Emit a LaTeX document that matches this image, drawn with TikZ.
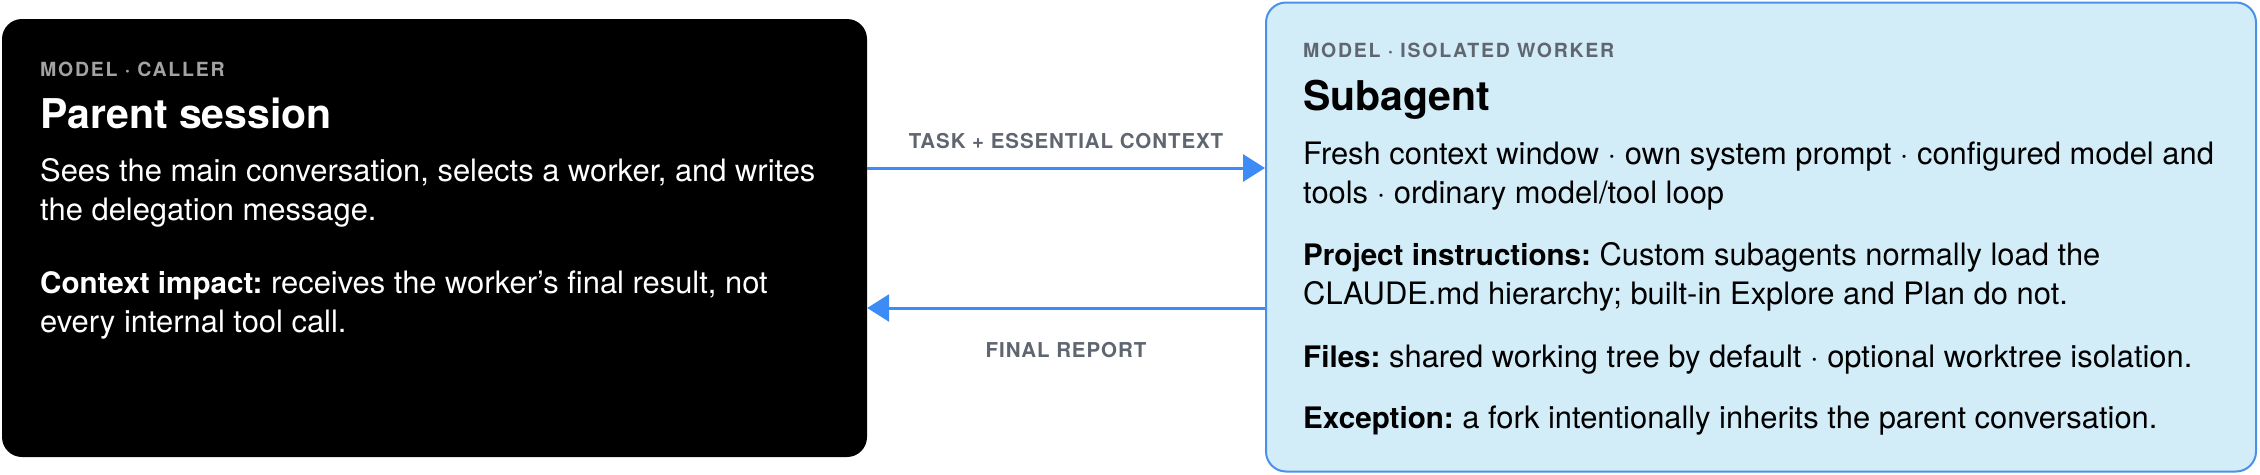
\documentclass[tikz,border=0pt]{standalone}
\usepackage{fontspec}
\setmainfont{TeX Gyre Heros}
\newfontfamily\kickerfont[LetterSpace=9]{TeX Gyre Heros}
\newfontfamily\flowfont[LetterSpace=4.5]{TeX Gyre Heros}
\usetikzlibrary{arrows.meta}
\definecolor{arrowblue}{HTML}{3D8BF6}
\definecolor{panelfill}{HTML}{D2ECF8}
\definecolor{panelborder}{HTML}{4A90E9}
\definecolor{capgray}{HTML}{5F6670}
\definecolor{capgraylight}{HTML}{A3A3A3}
\newcommand{\leadin}[1]{{\bfseries\fontsize{29.6}{38.3}\selectfont #1}}
\frenchspacing
\tikzset{
  darkbox/.style={rectangle, rounded corners=20pt, fill=black, inner sep=0pt,
    minimum width=865pt, minimum height=438pt},
  lightbox/.style={rectangle, rounded corners=20pt, fill=panelfill, draw=panelborder,
    line width=2pt, inner sep=0pt, minimum width=990pt, minimum height=469pt},
  kicker/.style={anchor=base west, inner sep=0pt,
    font=\kickerfont\bfseries\fontsize{19.5}{22}\selectfont},
  heading/.style={anchor=base west, inner sep=0pt,
    font=\bfseries\fontsize{41}{48}\selectfont},
  bodytext/.style={anchor=base west, inner sep=0pt, align=left,
    font=\frenchspacing\fontsize{30.9}{38.3}\selectfont},
  flowlabel/.style={anchor=base, inner sep=0pt, text=capgray,
    font=\flowfont\bfseries\fontsize{20.5}{24}\selectfont},
  flow/.style={draw=arrowblue, line width=3pt,
    -{Triangle[length=22pt,width=27pt]}},
}
\begin{document}
\begin{tikzpicture}[x=1pt,y=-1pt]
\useasboundingbox (0,0) rectangle (2260,474);
% boxes
\node[darkbox] (parent) at (434.5,238) {};
\node[lightbox] (sub) at (1761,237) {};
% left text (multi-line nodes: base = last line's baseline)
\node[kicker, text=capgraylight] (pk) at (40,76) {MODEL · CALLER};
\node[heading, text=white] (pt) at (40,128) {Parent session};
\node[bodytext, text=white] (pb1) at (40,220) {Sees the main conversation, selects a worker, and writes\\the delegation message.};
\node[bodytext, text=white] (pb2) at (40,332) {\leadin{Context impact:} receives the worker’s final result, not\\every internal tool call.};
% right text
\node[kicker, text=capgray] (sk) at (1303,57) {MODEL · ISOLATED WORKER};
\node[heading, text=black] (st) at (1303,110) {Subagent};
\node[bodytext, text=black] (sb1) at (1303,203) {Fresh context window · own system prompt · configured model and\\tools · ordinary model/tool loop};
\node[bodytext, text=black] (sb2) at (1303,304) {\leadin{Project instructions:} Custom subagents normally load the\\CLAUDE.md hierarchy; built-in Explore and Plan do not.};
\node[bodytext, text=black] (sb3) at (1303,367) {\leadin{Files:} shared working tree by default · optional worktree isolation.};
\node[bodytext, text=black] (sb4) at (1303,428) {\leadin{Exception:} a fork intentionally inherits the parent conversation.};
% connectors
\coordinate (taskrow) at (0,168);
\coordinate (reportrow) at (0,308);
\draw[flow] (parent.east |- taskrow) -- (sub.west |- taskrow);
\draw[flow] (sub.west |- reportrow) -- (parent.east |- reportrow);
\node[flowlabel] (tasklbl) at (1066,148) {TASK + ESSENTIAL CONTEXT};
\node[flowlabel] (reportlbl) at (1066,357) {FINAL REPORT};
\end{tikzpicture}
\end{document}
